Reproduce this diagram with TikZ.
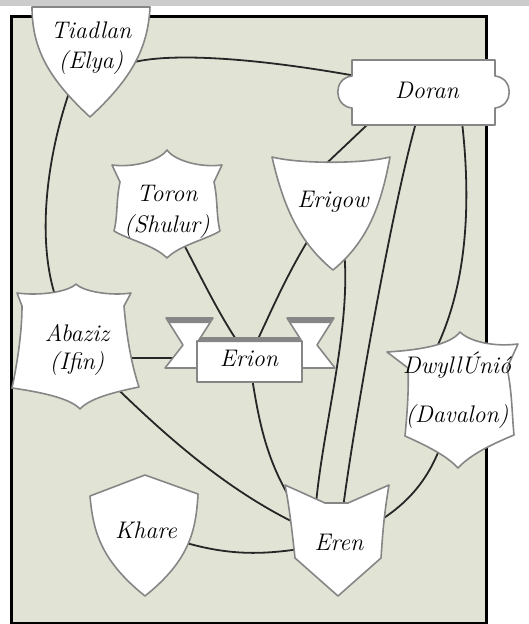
\documentclass[tikz,border=0pt]{standalone}
\pgfdeclarelayer{back}
\pgfdeclarelayer{links}
\pgfdeclarelayer{crests}
\pgfsetlayers{back,links,crests,main}
\definecolor{parch}{HTML}{E1E4D4}
\definecolor{rim}{HTML}{868686}

\begin{document}
\begin{tikzpicture}[x=1pt, y=-1pt, % one unit = one pixel, y downwards
    lbl/.style={align=center, inner sep=0pt, font=\itshape\fontsize{24}{30}\selectfont},
    crest/.style={draw=rim, fill=white, line width=1.6pt, line join=round},
    link/.style={line width=1.8pt, draw=black!85}]
\useasboundingbox (0,0) rectangle (529,624);

\begin{pgfonlayer}{back}
    \fill[black!20] (0,0) rectangle (529,6);
    \draw[line width=3pt, fill=parch] (11,16) rectangle (486,623);
\end{pgfonlayer}

% names
\node[lbl] (tiadlan) at (91,48) {Tiadlan\\(Elya)};
\node[lbl] (doran) at (427,90) {Doran};
\node[lbl] (toron) at (167,212) {Toron\\[1pt](Shulur)};
\node[lbl] (erigow) at (333,202) {Erigow};
\node[lbl] (abaziz) at (77,350) {Abaziz\\[-2pt](Ifin)};
\node[lbl] (erion) at (249,358) {Erion};
\node[lbl] (dwyll) at (457,390) {Dwyll\'Uni\'o\\[19pt](Davalon)};
\node[lbl] (khare) at (146,530) {Khare};
\node[lbl] (eren) at (339,542) {Eren};

\begin{pgfonlayer}{links}
    \draw[link] (tiadlan.-20) .. controls (180,50) and (290,62) .. (doran);
    \draw[link] (tiadlan.-120) .. controls (46,150) and (30,260) .. (abaziz.110);
    \draw[link] (doran.south west) -- (erigow.north west);
    \draw[link] (doran) .. controls (400,160) and (350,440) .. (eren);
    \draw[link] (doran.south east) .. controls (472,190) and (470,280) .. (dwyll.120);
    \draw[link] (toron) .. controls (205,285) and (222,320) .. (erion);
    \draw[link] (erigow) .. controls (290,265) and (272,310) .. (erion);
    \draw[link] (abaziz.east |- erion.west) -- (erion.west);
    \draw[link] (abaziz) .. controls (150,420) and (225,495) .. (eren);
    \draw[link] (erion) .. controls (260,430) and (268,475) .. (eren.north west);
    \draw[link] (erigow) .. controls (365,300) and (315,440) .. (eren.north west);
    \draw[link] (dwyll) .. controls (432,480) and (405,510) .. (eren);
    \draw[link] (khare) .. controls (225,556) and (262,556) .. (eren);
\end{pgfonlayer}

\begin{pgfonlayer}{crests}
    % Tiadlan
    \draw[crest] (32,7) -- (150,7) .. controls (148,50) and (130,80) .. (90,117)
        .. controls (50,80) and (32,50) .. cycle;
    % Doran
    \draw[crest] (352,60) -- (495,60) -- (495,76) .. controls (514,78) and (514,106) .. (495,108)
        -- (495,125) -- (352,125) -- (352,108) .. controls (333,106) and (333,78) .. (352,76) -- cycle;
    % Toron
    \draw[crest] (112,165) .. controls (135,168) and (160,160) .. (167,150)
        .. controls (174,160) and (199,168) .. (222,165) -- (214,182)
        .. controls (218,200) and (216,215) .. (220,231) .. controls (205,240) and (180,245) .. (167,258)
        .. controls (154,245) and (129,240) .. (114,231) .. controls (118,215) and (116,200) .. (120,182) -- cycle;
    % Erigow
    \draw[crest] (272,157) .. controls (300,164) and (362,164) .. (390,157)
        .. controls (382,200) and (370,240) .. (333,270) .. controls (296,240) and (282,200) .. cycle;
    % Abaziz
    \draw[crest] (17,293) .. controls (40,296) and (68,292) .. (76,284)
        .. controls (84,292) and (112,296) .. (131,293) -- (124,306)
        .. controls (126,330) and (130,360) .. (139,387) .. controls (115,392) and (90,398) .. (80,409)
        .. controls (70,398) and (40,392) .. (12,388) .. controls (18,360) and (22,330) .. (22,306) -- cycle;
    % Dwyll Unio
    \draw[crest] (387,352) .. controls (420,350) and (450,345) .. (460,332)
        .. controls (470,342) and (495,347) .. (518,344) -- (507,368)
        .. controls (512,390) and (512,415) .. (514,435) .. controls (490,445) and (470,455) .. (458,468)
        .. controls (446,455) and (425,445) .. (405,436) .. controls (407,415) and (409,390) .. (408,368) -- cycle;
    % Khare
    \draw[crest] (90,496) -- (145,475) -- (198,494) .. controls (196,530) and (190,560) .. (145,596)
        .. controls (100,560) and (93,530) .. cycle;
    % Eren
    \draw[crest] (285,485) -- (325,503) -- (348,503) -- (389,485)
        .. controls (383,520) and (382,545) .. (381,558) -- (338,596) -- (295,558)
        .. controls (293,540) and (290,510) .. cycle;
    % Erion banner
    \draw[crest] (166,318) -- (213,318) -- (199,340) -- (199,368) -- (165,368) -- (183,345) -- cycle;
    \draw[crest] (334,318) -- (287,318) -- (301,340) -- (301,368) -- (335,368) -- (317,345) -- cycle;
    \fill[rim] (166,317) -- (213,317) -- (209,323) -- (170,323) -- cycle;
    \fill[rim] (334,317) -- (287,317) -- (291,323) -- (330,323) -- cycle;
    \draw[crest] (197,341) rectangle (302,382);
    \fill[rim] (200,337) -- (299,337) -- (302,342) -- (197,342) -- cycle;
\end{pgfonlayer}
\end{tikzpicture}
\end{document}
